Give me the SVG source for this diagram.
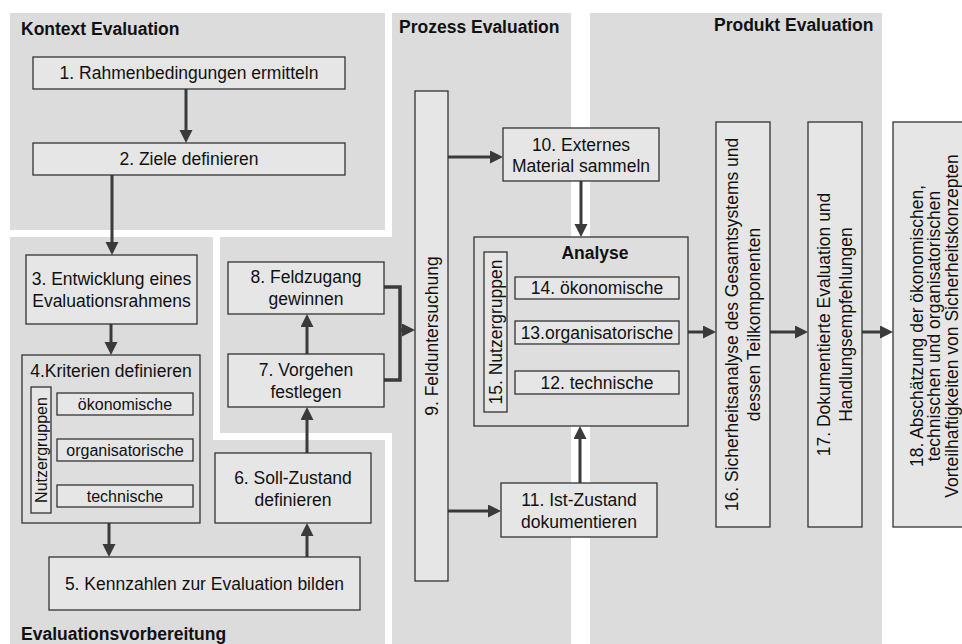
<svg xmlns="http://www.w3.org/2000/svg" width="962" height="644" viewBox="0 0 962 644">
<style>
text{font-family:"Liberation Sans",Arial,sans-serif;font-size:17.5px;fill:#111;text-anchor:middle}
.h{font-weight:bold;text-anchor:start}
.s{font-size:16px}
.panel{fill:#dcdcdc}
.box{fill:#e6e6e6;stroke:#333;stroke-width:1.3}
.cont{fill:#dedede;stroke:#333;stroke-width:1.3}
.ar{fill:none;stroke:#3a3a3a;stroke-width:3;marker-end:url(#ah)}
</style>
<defs>
<marker id="ah" markerUnits="userSpaceOnUse" markerWidth="14" markerHeight="14" refX="3" refY="6.5" orient="auto"><path d="M0,0 L13,6.5 L0,13 z" fill="#3a3a3a"/></marker>
</defs>
<g id="panels">
<rect class="panel" x="10" y="13" width="375" height="217"/>
<polygon class="panel" points="10,237 213,237 213,440 385,440 385,644 10,644"/>
<polygon class="panel" points="220,237 392,237 392,13 571,13 571,644 392,644 392,433 220,433"/>
<rect class="panel" x="590" y="13" width="292" height="631"/>
<text class="h" x="21" y="35">Kontext Evaluation</text>
<text class="h" x="399" y="33">Prozess Evaluation</text>
<text class="h" x="714" y="31">Produkt Evaluation</text>
<text class="h" x="21" y="640">Evaluationsvorbereitung</text>
</g>
<g id="connectors">
<path class="ar" d="M186,89 V133"/>
<path class="ar" d="M112,175 V245"/>
<path class="ar" d="M111,324 V345"/>
<path class="ar" d="M109,523 V547"/>
<path class="ar" d="M307,557 V533"/>
<path class="ar" d="M307,453 V417"/>
<path class="ar" d="M307,354 V324"/>
<path d="M384,287 H400 V380 H384" fill="none" stroke="#3a3a3a" stroke-width="3.5"/>
<path class="ar" d="M400,330 H405"/>
<path class="ar" d="M448,157 H493"/>
<path class="ar" d="M448,511 H491"/>
<path class="ar" d="M581,181 V227"/>
<path class="ar" d="M580,483 V436"/>
<path class="ar" d="M688,332 H706"/>
<path class="ar" d="M770,332 H798"/>
<path class="ar" d="M862,332 H883"/>
</g>
<g id="n1"><rect class="box" x="33" y="57" width="312" height="32"/><text x="189" y="79">1. Rahmenbedingungen ermitteln</text></g>
<g id="n2"><rect class="box" x="33" y="143" width="312" height="32"/><text x="189" y="165">2. Ziele definieren</text></g>
<g id="n3"><rect class="box" x="26" y="255" width="171" height="69"/><text x="111.5" y="285">3. Entwicklung eines</text><text x="111.5" y="307">Evaluationsrahmens</text></g>
<g id="n4"><rect class="cont" x="22" y="355" width="178" height="168"/><text x="111" y="377">4.Kriterien definieren</text>
<rect class="box" x="31" y="387" width="20" height="126"/><text class="s" transform="translate(41,450) rotate(-90)" y="5.5">Nutzergruppen</text>
<rect class="box" x="57" y="393" width="136" height="22"/><text class="s" x="125" y="409.5">ökonomische</text>
<rect class="box" x="57" y="439" width="136" height="22"/><text class="s" x="125" y="455.5">organisatorische</text>
<rect class="box" x="57" y="485" width="136" height="22"/><text class="s" x="125" y="501.5">technische</text></g>
<g id="n5"><rect class="box" x="49" y="557" width="311" height="53"/><text x="204.5" y="589.5">5. Kennzahlen zur Evaluation bilden</text></g>
<g id="n6"><rect class="box" x="215" y="453" width="156" height="70"/><text x="293" y="484">6. Soll-Zustand</text><text x="293" y="506">definieren</text></g>
<g id="n7"><rect class="box" x="228" y="354" width="156" height="53"/><text x="306" y="375.5">7. Vorgehen</text><text x="306" y="397.5">festlegen</text></g>
<g id="n8"><rect class="box" x="228" y="262" width="156" height="52"/><text x="306" y="283">8. Feldzugang</text><text x="306" y="305">gewinnen</text></g>
<g id="n9"><rect class="box" x="415" y="91" width="33" height="490"/><text transform="translate(431.5,336) rotate(-90)" y="6.5">9. Felduntersuchung</text></g>
<g id="n10"><rect class="box" x="503" y="128" width="156" height="53"/><text x="581" y="150.5">10. Externes</text><text x="581" y="172">Material sammeln</text></g>
<g id="analyse"><rect class="cont" x="474" y="237" width="214" height="189"/><text x="595" y="259" style="font-weight:bold">Analyse</text>
<rect class="box" x="484" y="252" width="23" height="160"/><text transform="translate(495.5,332) rotate(-90)" y="6.5">15. Nutzergruppen</text>
<rect class="box" x="515" y="277" width="164" height="22"/><text x="597" y="294">14. ökonomische</text>
<rect class="box" x="515" y="321" width="164" height="23"/><text x="597" y="338.5">13.organisatorische</text>
<rect class="box" x="515" y="371" width="164" height="23"/><text x="597" y="388.5">12. technische</text></g>
<g id="n11"><rect class="box" x="501" y="483" width="156" height="54"/><text x="579" y="506">11. Ist-Zustand</text><text x="579" y="527.5">dokumentieren</text></g>
<g id="n16"><rect class="box" x="716" y="122" width="54" height="405"/><text transform="translate(743,324.5) rotate(-90)"><tspan x="0" y="-5">16. Sicherheitsanalyse des Gesamtsystems und</tspan><tspan x="0" y="17">dessen Teilkomponenten</tspan></text></g>
<g id="n17"><rect class="box" x="808" y="122" width="54" height="405"/><text transform="translate(835,324.5) rotate(-90)"><tspan x="0" y="-5">17. Dokumentierte Evaluation und</tspan><tspan x="0" y="17">Handlungsempfehlungen</tspan></text></g>
<g id="n18"><rect class="box" x="893" y="122" width="90" height="405"/><text transform="translate(940,326) rotate(-90)"><tspan x="0" y="-17.5">18. Abschätzung der ökonomischen,</tspan><tspan x="0" y="0">technischen und organisatorischen</tspan><tspan x="0" y="17.5">Vorteilhaftigkeiten von Sicherheitskonzepten</tspan></text></g>
</svg>
